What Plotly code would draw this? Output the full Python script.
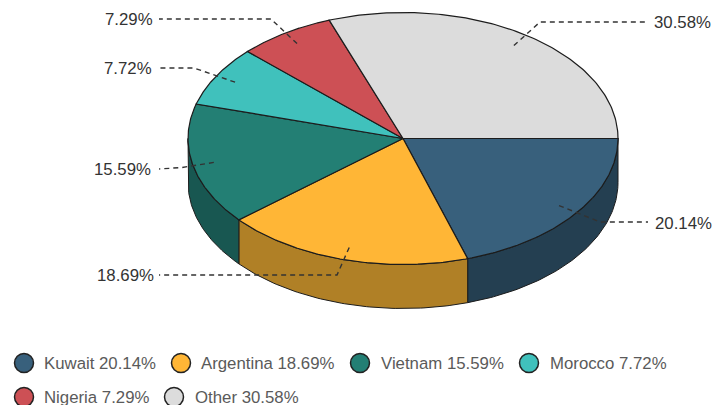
import numpy as np
import plotly.graph_objects as go

categories = ["Kuwait", "Argentina", "Vietnam", "Morocco", "Nigeria", "Other"]
shares = [20.14, 18.69, 15.59, 7.72, 7.29, 30.58]
top_colors = ["#38607c", "#ffb636", "#237f74", "#40c1bc", "#cd5055", "#dcdcdc"]
side_colors = ["#243f51", "#b08026", "#185751", "#2a7d7a", "#853437", "#8f8f8f"]

# Layout of the drawing (pixels of the 713x405 page)
CX, CY, RX, RY, DEPTH = 403, 138.5, 215, 126, 44
label_anchor = [(653, 223, "left"), (156, 275, "right"), (153, 169, "right"),
                (154, 68, "right"), (155, 19, "right"), (652, 22, "left")]
leader_elbow = [(600, 222), (337, 275), (182, 167.5), (194, 68), (271, 19), (540, 22)]
leader_end = [(648, 222), (159, 275), (159, 169), (160, 68), (159, 19), (648, 22)]
legend_pos = [(24, 363), (181, 363), (360, 363), (529, 363), (24, 397), (174, 397)]
legend_text_x = [42, 199, 379, 548, 42, 193]
OUTLINE = "#1c1c1c"

fig = go.Figure()


def pt(deg, r=1.0, dz=0.0):
    a = np.radians(deg)
    return CX + RX * r * np.cos(a), CY + RY * r * np.sin(a) + dz


edges = np.concatenate([[0], np.cumsum(shares)]) * 3.6 / (sum(shares) / 100)

# Side walls (only the front half of the disc shows one)
for i in range(len(shares)):
    a0, a1 = edges[i], min(edges[i + 1], 180)
    if a0 >= 180:
        continue
    t = np.linspace(a0, a1, 80)
    xs, ys = pt(t)
    xb, yb = pt(t[::-1], dz=DEPTH)
    fig.add_trace(go.Scatter(
        x=np.concatenate([xs, xb, xs[:1]]), y=np.concatenate([ys, yb, ys[:1]]),
        mode="lines", fill="toself", fillcolor=side_colors[i],
        line=dict(color=OUTLINE, width=1), hoverinfo="skip"))

# Top slices
for i in range(len(shares)):
    t = np.linspace(edges[i], edges[i + 1], 120)
    xs, ys = pt(t)
    fig.add_trace(go.Scatter(
        x=np.concatenate([[CX], xs, [CX]]), y=np.concatenate([[CY], ys, [CY]]),
        mode="lines", fill="toself", fillcolor=top_colors[i],
        line=dict(color=OUTLINE, width=1.2), hoverinfo="skip"))

# Leader lines and value labels
for i, share in enumerate(shares):
    mid = (edges[i] + edges[i + 1]) / 2
    x0, y0 = pt(mid, r=0.9)
    fig.add_trace(go.Scatter(
        x=[float(x0), leader_elbow[i][0], leader_end[i][0]],
        y=[float(y0), leader_elbow[i][1], leader_end[i][1]],
        mode="lines", line=dict(color="#333333", width=1.4, dash="5px,4px"),
        hoverinfo="skip"))
    lx, ly, anchor = label_anchor[i]
    fig.add_annotation(x=lx, y=ly, text=f"{share:.2f}%", showarrow=False,
                       xanchor=anchor, yanchor="middle",
                       font=dict(family="Liberation Sans", size=16.8, color="#333333"))

# Legend
for i, (name, share) in enumerate(zip(categories, shares)):
    lx, ly = legend_pos[i]
    fig.add_trace(go.Scatter(
        x=[lx], y=[ly], mode="markers",
        marker=dict(size=19, color=top_colors[i], line=dict(color="#222222", width=1.5)),
        hoverinfo="skip"))
    fig.add_annotation(x=legend_text_x[i], y=ly, text=f"{name} {share:.2f}%", showarrow=False,
                       xanchor="left", yanchor="middle",
                       font=dict(family="Liberation Sans", size=16.8, color="#5a5a5a"))

fig.update_layout(
    width=713, height=405, margin=dict(l=0, r=0, t=0, b=0),
    paper_bgcolor="white", plot_bgcolor="white", showlegend=False,
    xaxis=dict(range=[0, 713], visible=False, fixedrange=True),
    yaxis=dict(range=[405, 0], visible=False, fixedrange=True),
)
fig.write_html("out.html", config={"displayModeBar": False},
               post_script="document.body.style.margin='0';document.body.style.overflow='hidden';")
